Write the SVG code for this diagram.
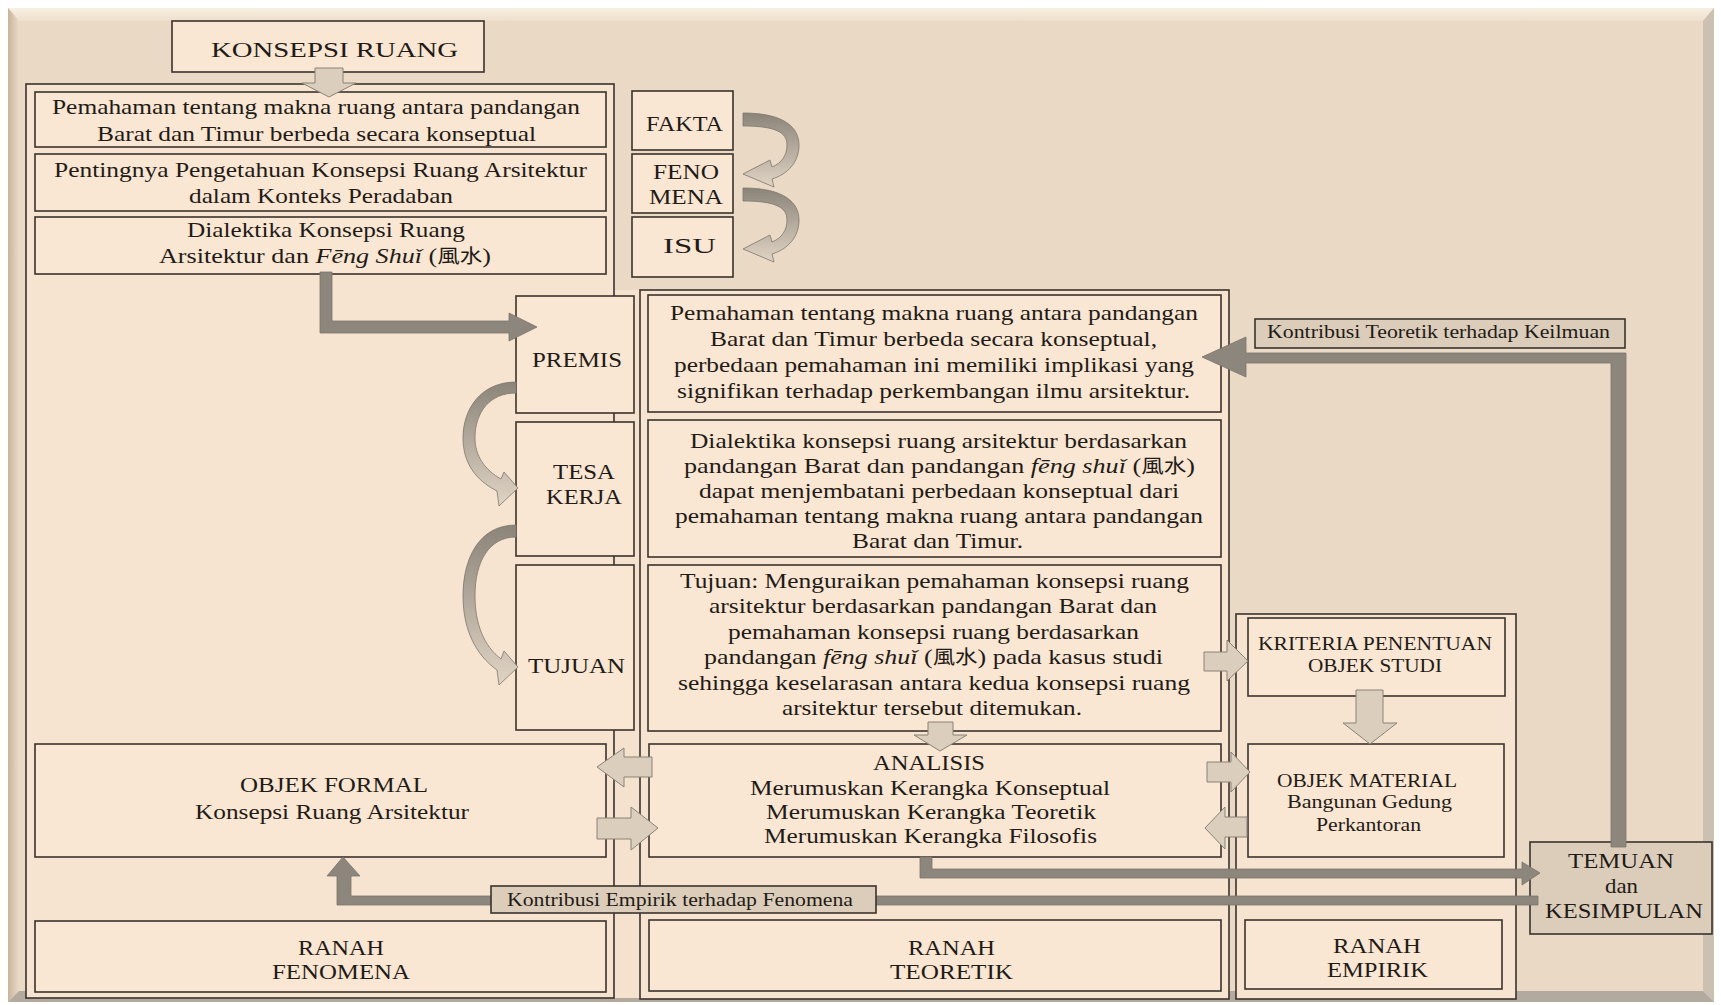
<svg xmlns="http://www.w3.org/2000/svg" width="1721" height="1005" viewBox="0 0 1721 1005">
<defs>
<style>
.bx{fill:#f9e6d3;stroke:#3a332c;stroke-width:1.6}
.ct{fill:#f7e4d0;stroke:#3a332c;stroke-width:1.6}
.lb{fill:#dccdbb;stroke:#3a332c;stroke-width:1.6}
.t{font-family:"Liberation Serif","Noto Sans CJK SC",serif;font-size:22px;fill:#1f1b17}
.s19{font-size:19px}
.s18{font-size:18px}
.s20{font-size:21px}
.cjk{font-family:"Noto Sans CJK SC",serif;font-size:19px}
.dk{fill:#8d867c;stroke:#7a736a;stroke-width:0.8}
.lt{fill:#dbcebc;stroke:#8a8278;stroke-width:1}
.cv{stroke:#7d766c;stroke-width:0.8}
</style>
<linearGradient id="gcv" x1="0" y1="0" x2="0" y2="1">
<stop offset="0" stop-color="#8b8479"/>
<stop offset="1" stop-color="#e0d4c4"/>
</linearGradient>
<linearGradient id="gleft" x1="0" y1="0" x2="1" y2="0">
<stop offset="0" stop-color="#c8b39b"/>
<stop offset="1" stop-color="#eadac6"/>
</linearGradient>
<linearGradient id="gtop" x1="0" y1="0" x2="0" y2="1">
<stop offset="0" stop-color="#f8efe3"/>
<stop offset="1" stop-color="#eedfcc"/>
</linearGradient>
</defs>

<g id="panel">
<rect x="0" y="0" width="1721" height="1005" fill="#ffffff"/>
<rect x="8" y="8" width="1706" height="994" fill="#e9d9c5"/>
<polygon points="8,8 1714,8 1703,21 19,21" fill="url(#gtop)"/>
<polygon points="8,8 19,21 19,991 8,1002" fill="url(#gleft)"/>
<polygon points="1714,8 1714,1002 1703,991 1703,21" fill="#cbc0b2"/>
<polygon points="8,1002 1714,1002 1703,991 19,991" fill="#b3aa9f"/>
<rect x="614" y="290" width="26" height="708" fill="#f5e2ce"/>
</g>

<g id="containers">
<rect id="ranah-fenomena-col" class="ct" x="26" y="84" width="588" height="914"/>
<rect id="ranah-teoretik-col" class="ct" x="640" y="290" width="589" height="709"/>
<rect id="ranah-empirik-col" class="ct" x="1236" y="614" width="280" height="385"/>
</g>

<g id="konsepsi-ruang">
<rect class="bx" x="172" y="21" width="312" height="51"/>
<text class="t" x="211" y="57" font-size="26" textLength="247" lengthAdjust="spacingAndGlyphs">KONSEPSI RUANG</text>
</g>

<g id="left-box-1">
<rect class="bx" x="35" y="92" width="571" height="55"/>
<text class="t" x="52" y="114" textLength="528" lengthAdjust="spacingAndGlyphs">Pemahaman tentang makna ruang antara pandangan</text>
<text class="t" x="97" y="141" textLength="439" lengthAdjust="spacingAndGlyphs">Barat dan Timur berbeda secara konseptual</text>
</g>
<g id="left-box-2">
<rect class="bx" x="35" y="154" width="571" height="57"/>
<text class="t" x="54" y="177" textLength="533" lengthAdjust="spacingAndGlyphs">Pentingnya Pengetahuan Konsepsi Ruang Arsitektur</text>
<text class="t" x="189" y="203" textLength="264" lengthAdjust="spacingAndGlyphs">dalam Konteks Peradaban</text>
</g>
<g id="left-box-3">
<rect class="bx" x="35" y="217" width="571" height="57"/>
<text class="t" x="187" y="237" textLength="278" lengthAdjust="spacingAndGlyphs">Dialektika Konsepsi Ruang</text>
<text class="t" x="159" y="263" textLength="332" lengthAdjust="spacingAndGlyphs">Arsitektur dan <tspan font-style="italic">Fēng Shuǐ</tspan> (<tspan class="cjk">風水</tspan>)</text>
</g>

<g id="fakta">
<rect class="bx" x="632" y="91" width="101" height="59"/>
<text class="t" x="646" y="131" textLength="77" lengthAdjust="spacingAndGlyphs">FAKTA</text>
</g>
<g id="fenomena">
<rect class="bx" x="632" y="154" width="101" height="59"/>
<text class="t" x="653" y="179" textLength="66" lengthAdjust="spacingAndGlyphs">FENO</text>
<text class="t" x="649" y="204" textLength="74" lengthAdjust="spacingAndGlyphs">MENA</text>
</g>
<g id="isu">
<rect class="bx" x="632" y="217" width="101" height="60"/>
<text class="t" x="663" y="253" textLength="53" lengthAdjust="spacingAndGlyphs">ISU</text>
</g>

<g id="premis">
<rect class="bx" x="516" y="296" width="118" height="117"/>
<text class="t" x="532" y="367" textLength="90" lengthAdjust="spacingAndGlyphs">PREMIS</text>
</g>
<g id="tesa-kerja">
<rect class="bx" x="516" y="422" width="118" height="134"/>
<text class="t" x="553" y="479" textLength="62" lengthAdjust="spacingAndGlyphs">TESA</text>
<text class="t" x="546" y="504" textLength="76" lengthAdjust="spacingAndGlyphs">KERJA</text>
</g>
<g id="tujuan">
<rect class="bx" x="516" y="565" width="118" height="165"/>
<text class="t" x="528" y="673" textLength="97" lengthAdjust="spacingAndGlyphs">TUJUAN</text>
</g>

<g id="premis-text">
<rect class="bx" x="648" y="295" width="573" height="117"/>
<text class="t" x="670" y="320" textLength="528" lengthAdjust="spacingAndGlyphs">Pemahaman tentang makna ruang antara pandangan</text>
<text class="t" x="710" y="346" textLength="447" lengthAdjust="spacingAndGlyphs">Barat dan Timur berbeda secara konseptual,</text>
<text class="t" x="674" y="372" textLength="520" lengthAdjust="spacingAndGlyphs">perbedaan pemahaman ini memiliki implikasi yang</text>
<text class="t" x="677" y="398" textLength="513" lengthAdjust="spacingAndGlyphs">signifikan terhadap perkembangan ilmu arsitektur.</text>
</g>
<g id="tesa-text">
<rect class="bx" x="648" y="420" width="573" height="137"/>
<text class="t" x="690" y="448" textLength="497" lengthAdjust="spacingAndGlyphs">Dialektika konsepsi ruang arsitektur berdasarkan</text>
<text class="t" x="684" y="473" textLength="511" lengthAdjust="spacingAndGlyphs">pandangan Barat dan pandangan <tspan font-style="italic">fēng shuǐ</tspan> (<tspan class="cjk">風水</tspan>)</text>
<text class="t" x="699" y="498" textLength="480" lengthAdjust="spacingAndGlyphs">dapat menjembatani perbedaan konseptual dari</text>
<text class="t" x="675" y="523" textLength="528" lengthAdjust="spacingAndGlyphs">pemahaman tentang makna ruang antara pandangan</text>
<text class="t" x="852" y="548" textLength="171" lengthAdjust="spacingAndGlyphs">Barat dan Timur.</text>
</g>
<g id="tujuan-text">
<rect class="bx" x="648" y="565" width="573" height="166"/>
<text class="t" x="680" y="588" textLength="509" lengthAdjust="spacingAndGlyphs">Tujuan: Menguraikan pemahaman konsepsi ruang</text>
<text class="t" x="709" y="613" textLength="448" lengthAdjust="spacingAndGlyphs">arsitektur berdasarkan pandangan Barat dan</text>
<text class="t" x="728" y="639" textLength="411" lengthAdjust="spacingAndGlyphs">pemahaman konsepsi ruang berdasarkan</text>
<text class="t" x="704" y="664" textLength="459" lengthAdjust="spacingAndGlyphs">pandangan <tspan font-style="italic">fēng shuǐ</tspan> (<tspan class="cjk">風水</tspan>) pada kasus studi</text>
<text class="t" x="678" y="690" textLength="512" lengthAdjust="spacingAndGlyphs">sehingga keselarasan antara kedua konsepsi ruang</text>
<text class="t" x="782" y="715" textLength="300" lengthAdjust="spacingAndGlyphs">arsitektur tersebut ditemukan.</text>
</g>

<g id="analisis">
<rect class="bx" x="649" y="744" width="572" height="113"/>
<text class="t s20" x="873" y="770" textLength="112" lengthAdjust="spacingAndGlyphs">ANALISIS</text>
<text class="t s20" x="750" y="795" textLength="360" lengthAdjust="spacingAndGlyphs">Merumuskan Kerangka Konseptual</text>
<text class="t s20" x="766" y="819" textLength="330" lengthAdjust="spacingAndGlyphs">Merumuskan Kerangka Teoretik</text>
<text class="t s20" x="764" y="843" textLength="333" lengthAdjust="spacingAndGlyphs">Merumuskan Kerangka Filosofis</text>
</g>
<g id="ranah-teoretik">
<rect class="bx" x="649" y="920" width="572" height="71"/>
<text class="t s20" x="908" y="955" textLength="87" lengthAdjust="spacingAndGlyphs">RANAH</text>
<text class="t s20" x="890" y="979" textLength="123" lengthAdjust="spacingAndGlyphs">TEORETIK</text>
</g>

<g id="objek-formal">
<rect class="bx" x="35" y="744" width="571" height="113"/>
<text class="t s20" x="240" y="792" textLength="188" lengthAdjust="spacingAndGlyphs">OBJEK FORMAL</text>
<text class="t s20" x="195" y="819" textLength="274" lengthAdjust="spacingAndGlyphs">Konsepsi Ruang Arsitektur</text>
</g>
<g id="ranah-fenomena">
<rect class="bx" x="35" y="921" width="571" height="71"/>
<text class="t s20" x="298" y="955" textLength="86" lengthAdjust="spacingAndGlyphs">RANAH</text>
<text class="t s20" x="272" y="979" textLength="138" lengthAdjust="spacingAndGlyphs">FENOMENA</text>
</g>

<g id="kriteria">
<rect class="bx" x="1248" y="618" width="257" height="78"/>
<text class="t s19" x="1258" y="650" textLength="234" lengthAdjust="spacingAndGlyphs">KRITERIA PENENTUAN</text>
<text class="t s19" x="1308" y="672" textLength="134" lengthAdjust="spacingAndGlyphs">OBJEK STUDI</text>
</g>
<g id="objek-material">
<rect class="bx" x="1248" y="744" width="256" height="113"/>
<text class="t s19" x="1277" y="787" textLength="180" lengthAdjust="spacingAndGlyphs">OBJEK MATERIAL</text>
<text class="t s18" x="1287" y="808" textLength="165" lengthAdjust="spacingAndGlyphs">Bangunan Gedung</text>
<text class="t s18" x="1316" y="831" textLength="105" lengthAdjust="spacingAndGlyphs">Perkantoran</text>
</g>
<g id="ranah-empirik">
<rect class="bx" x="1245" y="920" width="257" height="69"/>
<text class="t s20" x="1333" y="953" textLength="88" lengthAdjust="spacingAndGlyphs">RANAH</text>
<text class="t s20" x="1327" y="977" textLength="101" lengthAdjust="spacingAndGlyphs">EMPIRIK</text>
</g>

<g id="temuan">
<rect class="lb" x="1530" y="842" width="182" height="92" fill="#dccbb8"/>
<text class="t s20" x="1568" y="868" textLength="106" lengthAdjust="spacingAndGlyphs">TEMUAN</text>
<text class="t s20" x="1605" y="893" textLength="33" lengthAdjust="spacingAndGlyphs">dan</text>
<text class="t s20" x="1545" y="918" textLength="158" lengthAdjust="spacingAndGlyphs">KESIMPULAN</text>
</g>

<g id="connectors">
<path class="cv" fill="url(#gcv)" d="M743,113 C785,113 799,128 799,145 C799,162 788,174 772,179 L774,187 L743,174 L770,160 L772,167 C782,163 787,155 787,145 C787,132 775,126 743,126 Z"/>
<path class="cv" fill="url(#gcv)" transform="translate(0,75)" d="M743,113 C785,113 799,128 799,145 C799,162 788,174 772,179 L774,187 L743,174 L770,160 L772,167 C782,163 787,155 787,145 C787,132 775,126 743,126 Z"/>
<path class="cv" fill="url(#gcv)" d="M516,382 C480,382 463,410 463,438 C463,462 475,480 497,491 L499,506 L518,488 L504,472 L501,479 C485,470 475,456 475,438 C475,412 490,393 516,393 Z"/>
<path class="cv" fill="url(#gcv)" d="M516,525 C478,525 463,560 463,596 C463,630 476,655 497,670 L499,685 L518,667 L504,651 L501,659 C484,646 475,624 475,596 C475,560 490,537 516,537 Z"/>

<polygon class="dk" points="320,272 332,272 332,321 509,321 509,313 537,327 509,341 509,333 320,333"/>
<polygon class="dk" points="1626,353 1626,847 1611,847 1611,363 1246,363 1246,377 1202,357 1246,337 1246,353"/>
<polygon class="dk" points="920,857 932,857 932,869 1522,869 1522,862 1540,873 1522,885 1522,878 920,878"/>
<polygon class="dk" points="1538,896 1538,905 337,905 337,876 327,876 343,857 360,876 351,876 351,896"/>

<polygon class="lt" points="315,68 343,68 343,83 356,83 329,97 302,83 315,83"/>
<polygon class="lt" points="928,722 953,722 953,735 967,735 940,751 914,735 928,735"/>
<polygon class="lt" points="652,757 652,777 624,777 624,787 597,767 624,748 624,757"/>
<polygon class="lt" points="597,818 631,818 631,807 658,828 631,850 631,839 597,839"/>
<polygon class="lt" points="1204,652 1227,652 1227,640 1248,661 1227,681 1227,671 1204,671"/>
<polygon class="lt" points="1356,690 1383,690 1383,723 1397,723 1370,744 1343,723 1356,723"/>
<polygon class="lt" points="1207,762 1231,762 1231,752 1250,772 1231,792 1231,782 1207,782"/>
<polygon class="lt" points="1247,817 1247,837 1225,837 1225,849 1205,828 1225,807 1225,817"/>

<g id="label-teoretik">
<rect class="lb" x="1255" y="319" width="370" height="29"/>
<text class="t s19" x="1267" y="338" textLength="343" lengthAdjust="spacingAndGlyphs">Kontribusi Teoretik terhadap Keilmuan</text>
</g>
<g id="label-empirik">
<rect class="lb" x="491" y="886" width="385" height="27"/>
<text class="t s18" x="507" y="906" textLength="346" lengthAdjust="spacingAndGlyphs">Kontribusi Empirik terhadap Fenomena</text>
</g>
</g>
</svg>
